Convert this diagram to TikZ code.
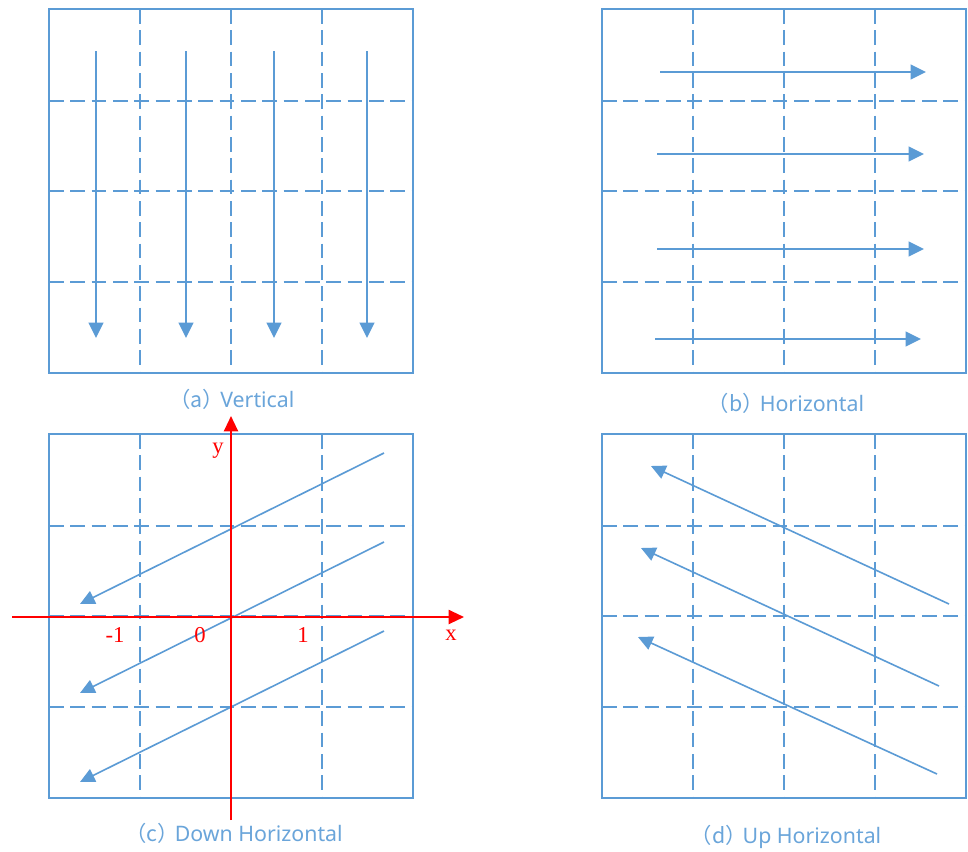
\documentclass[tikz,border=0pt]{standalone}
\usepackage{fontspec}
\newfontfamily\cjkfont{Noto Sans CJK SC}
\newfontfamily\capfont{Noto Sans}
\newfontfamily\serifnum{Liberation Serif}
\usetikzlibrary{arrows.meta}
\definecolor{lb}{HTML}{5B9BD5}
\definecolor{capblue}{HTML}{6AA5DA}
\newcommand\capt[2]{{\cjkfont （#1）}\hspace{-3pt}#2}
\begin{document}
\begin{tikzpicture}[x=0.75pt,y=-0.75pt,
  gridline/.style={lb, line width=1.4pt, dash pattern=on 11pt off 5pt},
  boxline/.style={lb, line width=1.1pt},
  flow/.style={lb, line width=1.6pt, -{Triangle[length=11.5pt,width=11pt]}},
  diag/.style={lb, line width=1.2pt, -{Triangle[length=11pt,width=10.5pt]}},
  axis/.style={red, line width=1.6pt, -{Triangle[length=11.5pt,width=10.5pt]}},
  caption/.style={capblue, font=\capfont\fontsize{16}{18}\selectfont, inner sep=0pt},
  axlabel/.style={red, font=\serifnum\fontsize{17}{19}\selectfont, inner sep=0pt},
  panel/.pic={
    \draw[gridline] (91,0) -- (91,364);
    \draw[gridline] (182,0) -- (182,364);
    \draw[gridline] (273,0) -- (273,364);
    \draw[gridline] (0,92) -- (364,92);
    \draw[gridline] (0,182) -- (364,182);
    \draw[gridline] (0,273) -- (364,273);
    \draw[boxline] (0,0) rectangle (364,364);
  }]
\useasboundingbox (0,0) rectangle (968,851);
\fill[white] (0,0) rectangle (968,851);

% panels
\pic (pa) at (49,9) {panel};
\pic (pb) at (602,9) {panel};
\pic (pc) at (49,434) {panel};
\pic (pd) at (602,434) {panel};

% (a) vertical arrows
\foreach \x in {96,186,274,367} {
  \draw[flow] (\x,51) -- (\x,338);
}
% (b) horizontal arrows
\draw[flow] (660,72) -- (926,72);
\draw[flow] (657,154) -- (924,154);
\draw[flow] (657,249) -- (924,249);
\draw[flow] (655,339) -- (921,339);

% (c) down horizontal
\draw[diag] (384,453) -- (80,604);
\draw[diag] (384,542) -- (80,693);
\draw[diag] (384,631) -- (80,782);
\draw[axis] (12,617) -- (464,617);
\draw[axis] (231,820) -- (231,416);
\node[axlabel] (ly) at (218,451) {y};
\node[axlabel] (lm1) at (115,635) {-1};
\node[axlabel] (l0) at (200,635) {0};
\node[axlabel] (l1) at (303,635) {1};
\node[axlabel] (lx) at (451,635) {x};

% (d) up horizontal
\draw[diag] (949,604) -- (651,466);
\draw[diag] (939,686) -- (641,548);
\draw[diag] (937,774) -- (638,637);

% captions
\node[caption] (ca) at (232,399) {\capt{a}{Vertical}};
\node[caption] (cb) at (786,403) {\capt{b}{Horizontal}};
\node[caption] (cc) at (234,833) {\capt{c}{Down Horizontal}};
\node[caption] (cd) at (786,837) {\capt{d}{Up Horizontal}};
\end{tikzpicture}
\end{document}
